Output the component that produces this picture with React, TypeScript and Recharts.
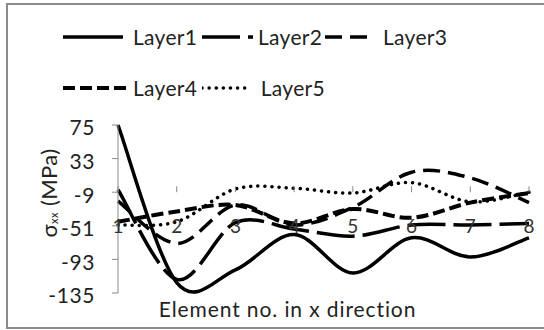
import React from "react";
import { LineChart, Line, XAxis, YAxis, Legend, ReferenceDot } from "recharts";

const elements = [1, 2, 3, 4, 5, 6, 7, 8];
const layer1 = [75, -122, -106, -62, -110, -66, -90, -66];
const layer2 = [-6, -118, -47, -55, -64, -50, -50, -48];
const layer3 = [-20, -73, -25, -50, -28, 16, 9, -22];
const layer4 = [-46, -33, -25, -48, -30, -41, -22, -10];
const layer5 = [-50, -46, -5, -4, -10, 3, -21, -9];
const yTicks = [75, 33, -9, -51, -93, -135];

const FONT = "Lato, 'Open Sans', sans-serif";
const TEXT = "#222";
const AXIS = "#8a8a8a";

const series = [
  { key: "layer1", name: "Layer1", values: layer1, dash: undefined, width: 3.5, cap: "butt", sample: 60, gap: 10 },
  { key: "layer2", name: "Layer2", values: layer2, dash: "38 8", width: 3.5, cap: "butt", sample: 51, gap: 5 },
  { key: "layer3", name: "Layer3", values: layer3, dash: "17 8", width: 3.5, cap: "butt", sample: 42, gap: 16 },
  { key: "layer4", name: "Layer4", values: layer4, dash: "12 5", width: 4, cap: "butt", sample: 68, gap: 2 },
  { key: "layer5", name: "Layer5", values: layer5, dash: "0.1 7", width: 3.5, cap: "round", sample: 62, gap: 12 },
];

const data = elements.map((el, i) => {
  const row: Record<string, number> = { el };
  series.forEach((s) => (row[s.key] = s.values[i]));
  return row;
});

// Excel-style smoothed line (cardinal spline through every point)
const excelSmooth = (context: any) => {
  let pts: number[][] = [];
  return {
    areaStart() {},
    areaEnd() {},
    lineStart() {
      pts = [];
    },
    point(x: number, y: number) {
      pts.push([+x, +y]);
    },
    lineEnd() {
      if (!pts.length) return;
      context.moveTo(pts[0][0], pts[0][1]);
      for (let i = 0; i < pts.length - 1; i++) {
        const p0 = pts[i - 1] || pts[i];
        const p1 = pts[i];
        const p2 = pts[i + 1];
        const p3 = pts[i + 2] || p2;
        context.bezierCurveTo(
          p1[0] + (p2[0] - p0[0]) / 6,
          p1[1] + (p2[1] - p0[1]) / 6,
          p2[0] - (p3[0] - p1[0]) / 6,
          p2[1] - (p3[1] - p1[1]) / 6,
          p2[0],
          p2[1]
        );
      }
    },
  };
};

const LegendContent = () => (
  <div
    style={{
      position: "absolute",
      left: 63,
      top: 22,
      display: "grid",
      gridTemplateColumns: "139px 123px 160px",
      gridAutoRows: "30px",
      rowGap: 21,
    }}
  >
    {series.map((s) => (
      <div key={s.key} style={{ display: "flex", alignItems: "center" }}>
        <svg width={s.sample} height={10}>
          <line
            x1={0}
            y1={5}
            x2={s.sample}
            y2={5}
            stroke="#000"
            strokeWidth={s.width}
            strokeDasharray={s.dash}
            strokeLinecap={s.cap as any}
          />
        </svg>
        <span
          style={{
            marginLeft: s.gap,
            fontFamily: FONT,
            fontSize: 21,
            letterSpacing: 0.3,
            color: TEXT,
            lineHeight: "30px",
          }}
        >
          {s.name}
        </span>
      </div>
    ))}
  </div>
);

const YTitle = (props: any) => {
  const { viewBox } = props;
  const cx = viewBox.x + 48;
  const cy = viewBox.y + viewBox.height / 2 - 16;
  return (
    <text
      x={cx}
      y={cy}
      transform={`rotate(-90, ${cx}, ${cy})`}
      textAnchor="middle"
      dominantBaseline="central"
      fontFamily={FONT}
      fontSize={22}
      letterSpacing={0.4}
      fill={TEXT}
    >
      σ
      <tspan fontSize={11} dy={5}>
        xx
      </tspan>
      <tspan dy={-5}> (MPa)</tspan>
    </text>
  );
};

const XTitle = (props: any) => {
  const { viewBox } = props;
  return (
    <text
      x={viewBox.x + viewBox.width / 2 - 36}
      y={viewBox.y + 24}
      textAnchor="middle"
      fontFamily={FONT}
      fontSize={21}
      letterSpacing={0.9}
      fill={TEXT}
    >
      Element no. in x direction
    </text>
  );
};

export default function App() {
  return (
    <div
      style={{
        position: "absolute",
        left: 0,
        top: 0,
        width: 544,
        height: 330,
        overflow: "hidden",
        background: "#fff",
      }}
    >
      <div
        style={{
          position: "absolute",
          left: 6,
          top: 3,
          width: 600,
          height: 322,
          border: "2px solid #8c8c8c",
        }}
      />
      <LineChart
        width={544}
        height={330}
        data={data}
        margin={{ top: 125, right: 15, left: 0, bottom: 0 }}
        style={{ position: "absolute", left: 0, top: 0 }}
      >
        <XAxis
          dataKey="el"
          type="number"
          domain={[1, 8]}
          ticks={elements}
          axisLine={false}
          tickLine={false}
          tick={false}
          height={37}
          label={<XTitle />}
        />
        <YAxis
          type="number"
          domain={[-135, 75]}
          ticks={yTicks}
          width={118}
          interval={0}
          axisLine={{ stroke: AXIS, strokeWidth: 1 }}
          tickLine={{ stroke: AXIS }}
          tickSize={6}
          tickMargin={17}
          tick={{ fontFamily: FONT, fontSize: 21, letterSpacing: 0.6, fill: TEXT, dy: 3 }}
          label={<YTitle />}
        />
        <Legend
          layout="horizontal"
          verticalAlign="middle"
          align="center"
          content={<LegendContent />}
          wrapperStyle={{ position: "absolute", left: 0, top: 0, width: 544, height: 110 }}
        />
        {elements.map((el) => (
          <ReferenceDot
            key={`tick-${el}`}
            x={el}
            y={-9}
            r={0}
            shape={(p: any) => <line x1={p.cx} y1={p.cy - 6} x2={p.cx} y2={p.cy} stroke={AXIS} strokeWidth={1} />}
          />
        ))}
        {elements.map((el) => (
          <ReferenceDot
            key={`lab-${el}`}
            x={el}
            y={-51}
            r={0}
            shape={(p: any) => (
              <text
                x={p.cx}
                y={p.cy}
                textAnchor="middle"
                dominantBaseline="central"
                fontFamily={FONT}
                fontSize={19}
                fill="#333"
              >
                {el}
              </text>
            )}
          />
        ))}
        {series.map((s) => (
          <Line
            key={s.key}
            dataKey={s.key}
            name={s.name}
            type={excelSmooth as any}
            stroke="#000"
            strokeWidth={s.width}
            strokeDasharray={s.dash}
            strokeLinecap={s.cap as any}
            dot={false}
            activeDot={false}
            isAnimationActive={false}
          />
        ))}
      </LineChart>
    </div>
  );
}
